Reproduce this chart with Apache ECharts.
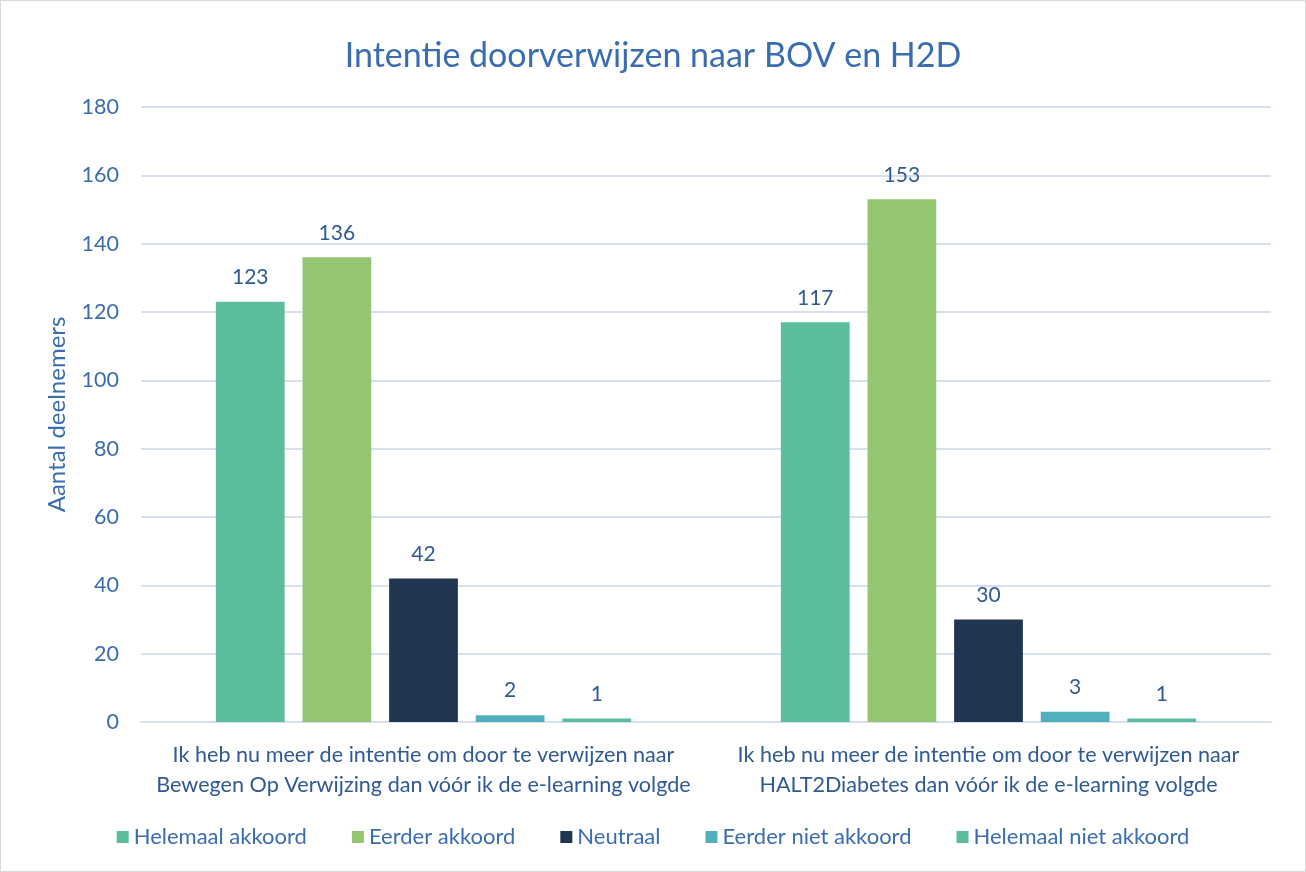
<!DOCTYPE html>
<html>
<head>
<meta charset="utf-8">
<script src="https://cdn.jsdelivr.net/npm/echarts@6/dist/echarts.min.js"></script>
<style>
  html, body { margin: 0; padding: 0; background: #fff; }
  #chart { width: 1306px; height: 872px; box-sizing: border-box; border: 1px solid #d9d9d9; }
</style>
</head>
<body>
<div id="chart"></div>
<script>
// categorieën (x-as)
const categories = [
  "Ik heb nu meer de intentie om door te verwijzen naar\nBewegen Op Verwijzing dan vóór ik de e-learning volgde",
  "Ik heb nu meer de intentie om door te verwijzen naar\nHALT2Diabetes dan vóór ik de e-learning volgde"
];
const seriesNames = ["Helemaal akkoord", "Eerder akkoord", "Neutraal", "Eerder niet akkoord", "Helemaal niet akkoord"];
const helemaalAkkoord = [123, 117];
const eerderAkkoord = [136, 153];
const neutraal = [42, 30];
const eerderNietAkkoord = [2, 3];
const helemaalNietAkkoord = [1, 1];
const colors = ["#5bbd9c", "#93c572", "#1f3550", "#52afbe", "#5bbd9c"];

const textBlue = "#3a6db0";
const font = "Lato";

const chart = echarts.init(document.getElementById("chart"));
const values = [helemaalAkkoord, eerderAkkoord, neutraal, eerderNietAkkoord, helemaalNietAkkoord];

const series = seriesNames.map((name, i) => ({
  type: "bar",
  name: name,
  data: values[i],
  barGap: "26%",
  barCategoryGap: "26.5%",
  itemStyle: { color: colors[i] },
  label: {
    show: true,
    position: "top",
    distance: 14,
    color: "#2f5a94",
    fontFamily: font,
    fontSize: 21
  }
}));

chart.setOption({
  animation: false,
  title: {
    text: "Intentie doorverwijzen naar BOV en H2D",
    left: "center",
    top: 33,
    textStyle: { color: textBlue, fontFamily: font, fontSize: 34, fontWeight: "normal" }
  },
  legend: {
    bottom: 18,
    left: "center",
    itemWidth: 12,
    itemHeight: 12,
    itemGap: 45,
    icon: "rect",
    textStyle: { color: textBlue, fontFamily: font, fontSize: 22 },
    data: seriesNames.map((n, i) => ({ name: n, itemStyle: { color: colors[i] } }))
  },
  grid: { left: 140, right: 34, top: 106, bottom: 149 },
  xAxis: {
    type: "category",
    data: categories,
    axisTick: { show: false },
    axisLine: { lineStyle: { color: "#d6e0ee", width: 2 } },
    axisLabel: {
      color: "#2f5a94",
      fontFamily: font,
      fontSize: 21.6,
      lineHeight: 30,
      margin: 18,
      interval: 0
    }
  },
  yAxis: {
    type: "value",
    min: 0,
    max: 180,
    interval: 20,
    name: "Aantal deelnemers",
    nameLocation: "middle",
    nameGap: 72,
    nameTextStyle: { color: textBlue, fontFamily: font, fontSize: 24 },
    axisLine: { show: false },
    axisTick: { show: false },
    axisLabel: { color: textBlue, fontFamily: font, fontSize: 21.5, margin: 22 },
    splitLine: { lineStyle: { color: "#d6e0ee", width: 2 } }
  },
  series: series
});
</script>
</body>
</html>
